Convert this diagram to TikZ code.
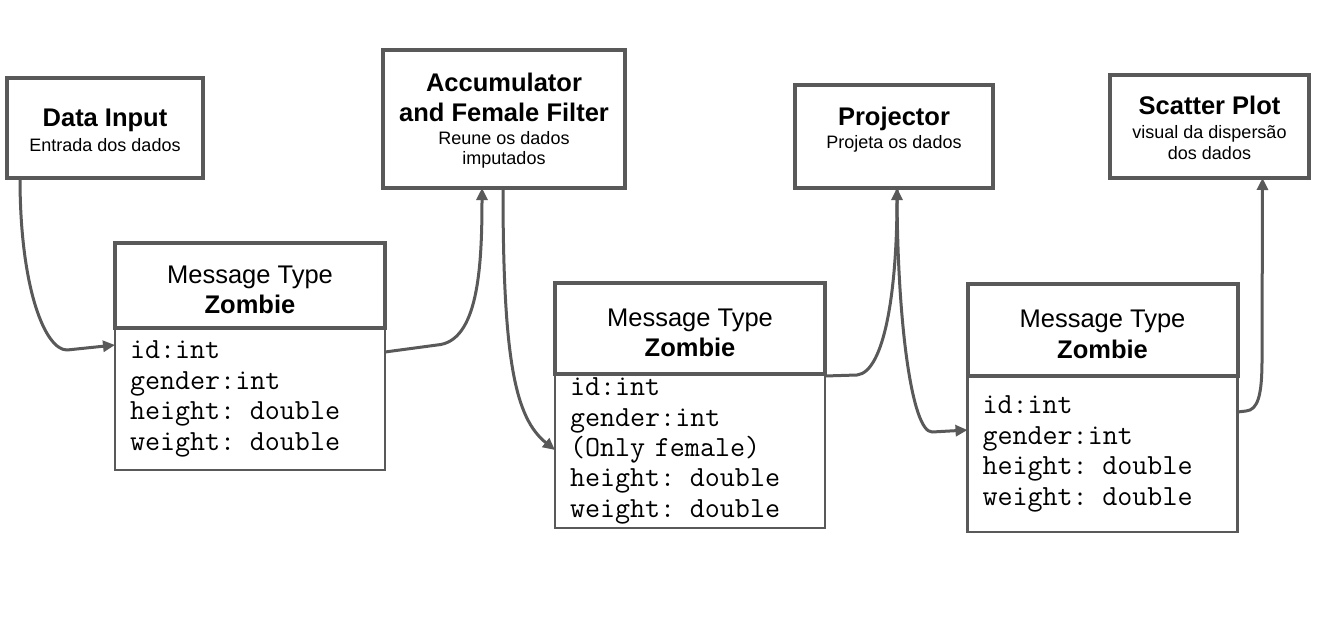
\documentclass[tikz,border=0pt]{standalone}
\usepackage{fontspec}
\setmainfont{Liberation Sans}
\setmonofont{Latin Modern Mono}
\usetikzlibrary{positioning,calc,arrows.meta}

\definecolor{edgegray}{RGB}{89,89,89}
\newcommand{\subtxt}{\fontsize{18}{21}\selectfont\mdseries}
\newcommand{\headstrut}{\rule{0pt}{26pt}}

\tikzset{
	procbox/.style={draw=edgegray,line width=4pt,outer sep=0pt,align=center,
		font=\fontsize{25.5}{30.5}\selectfont\bfseries},
	msghead/.style={draw=edgegray,line width=4pt,outer sep=0pt,minimum width=270pt,
		align=center,font=\fontsize{25.5}{30.5}\selectfont},
	msgbody/.style={draw=edgegray,line width=2.5pt,outer sep=0pt,text width=240pt,
		inner xsep=15pt,align=left,font=\ttfamily\fontsize{29.2}{30.4}\selectfont},
	flow/.style={draw=edgegray,line width=3pt,line join=round,
		-{Triangle[length=12pt,width=11pt]}}
}

\begin{document}
\begin{tikzpicture}[x=1pt,y=-1pt]
	\useasboundingbox[fill=white] (0,0) rectangle (1334,635);

	% processing steps
	\node[procbox,minimum width=196pt,minimum height=100pt] (input) at (105,128)
		{\rule{0pt}{22pt}Data Input\\[-5.5pt]{\subtxt Entrada dos dados}};
	\node[procbox,minimum width=242pt,minimum height=138pt] (accum) at (504,119)
		{\rule{0pt}{22pt}Accumulator\\and Female Filter\\[-7.5pt]{\subtxt Reune os dados}\\[-10.5pt]{\subtxt imputados}};
	\node[procbox,minimum width=198pt,minimum height=103pt] (proj) at (894,136.5)
		{\rule{0pt}{22pt}Projector\\[-7.5pt]{\subtxt Projeta os dados}\\[-10pt]{}};
	\node[procbox,minimum width=199pt,minimum height=103pt] (scatter) at (1209.5,126.5)
		{\rule{0pt}{21pt}Scatter Plot\\[-6.5pt]{\subtxt visual da dispersão}\\[-9.5pt]{\subtxt dos dados}};

	% message types
	\node[msghead,minimum height=85pt] (m1head) at (250,285.5)
		{\headstrut Message Type\\\textbf{Zombie}};
	\node[msgbody,minimum height=142pt,below=0pt of m1head] (m1body)
		{id:int\\gender:int\\height: double\\weight: double};
	\node[msghead,minimum height=91pt] (m2head) at (690,328.5)
		{\headstrut Message Type\\\textbf{Zombie}};
	\node[msgbody,minimum height=154pt,below=0pt of m2head] (m2body)
		{id:int\\gender:int\\(Only female)\\height: double\\weight: double};
	\node[msghead,minimum height=92pt] (m3head) at (1102.5,330)
		{\headstrut Message Type\\\textbf{Zombie}};
	\node[msgbody,minimum height=156pt,below=0pt of m3head] (m3body)
		{id:int\\gender:int\\height: double\\weight: double};

	% data flow
	\draw[flow] ($(input.south west)+(13,0)$) .. controls +(0,110) and +(-22,0) .. (67,350)
		-- ($(m1body.north west)+(0,17)$);
	\draw[flow] ($(m1body.north east)+(0,24)$) -- (437,345)
		.. controls +(41,-3) and +(0,80) .. ($(accum.south)+(-22,0)$);
	\draw[flow] ($(accum.south)+(-1,0)$) .. controls +(0,172) and +(-40,-32) .. ($(m2body.north west)+(0,76)$);
	\draw[flow] ($(m2body.north east)+(0,2)$) -- (857,375)
		.. controls +(28,-3) and +(0,100) .. ($(proj.south)+(3,0)$);
	\draw[flow] ($(proj.south)+(3,0)$) .. controls +(0,135) and +(-20,0) .. (932,432)
		-- ($(m3body.north west)+(0,54)$);
	\draw[flow] ($(m3body.north east)+(0,36)$) -- (1246,411)
		.. controls +(12,-1) and +(0,35) .. (1262,360) -- ($(scatter.south)+(53,0)$);
\end{tikzpicture}
\end{document}
